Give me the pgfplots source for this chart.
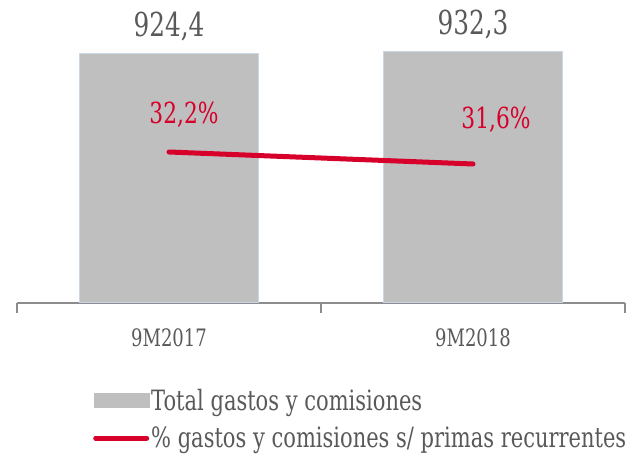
\documentclass[border=0pt]{standalone}
\usepackage{fontspec}
\setmainfont{DejaVu Serif}[FakeStretch=0.75]
\usepackage{pgfplots}
\pgfplotsset{compat=1.18}
\usetikzlibrary{calc}
\definecolor{barg}{HTML}{BFBFBF}
\definecolor{baredge}{HTML}{C8D6E8}
\definecolor{myred}{HTML}{D6002A}
\definecolor{txt}{HTML}{595959}
\definecolor{axg}{HTML}{8C8C8C}
\begin{document}
\begin{tikzpicture}
\begin{axis}[name=ax, scale only axis, width=608pt, height=269.4pt,
  xmin=-0.5, xmax=1.5, ymin=0, ymax=1000,
  axis y line=none, axis x line*=bottom,
  axis line style={axg, line width=1.2pt},
  xtick={0,1}, xticklabels={9M2017,9M2018},
  major tick length=0pt,
  minor xtick={-0.5,0.5,1.5}, minor tick length=10pt,
  tick align=outside, tick style={axg, line width=1.2pt},
  xticklabel style={font=\fontsize{24}{28}\selectfont, text=txt, yshift=-22pt},
  /pgf/number format/assume math mode=true,
  clip=false]
\addplot[ybar, bar width=0.592, fill=barg, draw=baredge, line width=1pt,
  point meta=y, nodes near coords={\pgfmathprintnumber[fixed,fixed zerofill,precision=1,use comma]{\pgfplotspointmeta}},
  nodes near coords style={font=\fontsize{33}{37}\selectfont, text=txt, anchor=south, yshift=9pt}]
  coordinates {(0,924.4) (1,932.3)};
\end{axis}
\begin{axis}[scale only axis, width=608pt, height=269.4pt,
  xmin=-0.5, xmax=1.5, ymin=24.65, ymax=38.12, hide axis, clip=false,
  legend cell align=left,
  legend style={at={(0.125,-0.312)}, anchor=north west, draw=none, fill=none,
    font=\fontsize{28}{31}\selectfont, text=txt, inner sep=0pt, row sep=11pt,
    nodes={inner sep=2pt}}]
\addlegendimage{legend image code/.code={\fill[barg] (0pt,-7pt) rectangle (55pt,7pt);}}
\addlegendentry{Total gastos y comisiones}
\addplot[myred, line width=5pt, line cap=round,
  legend image code/.code={\draw[myred,line width=5pt,line cap=round] (2pt,0pt) -- (53pt,0pt);}]
  coordinates {(0,32.2) (1,31.6)};
\addlegendentry{\% gastos y comisiones s/ primas recurrentes}
\node[text=myred, font=\fontsize{29}{33}\selectfont, xshift=15pt, yshift=37pt] at (axis cs:0,32.2) {32,2\%};
\node[text=myred, font=\fontsize{29}{33}\selectfont, xshift=23pt, yshift=44pt] at (axis cs:1,31.6) {31,6\%};
\end{axis}
\pgfresetboundingbox
\path ($(ax.south west)+(-17pt,-154pt)$) rectangle ($(ax.north east)+(6pt,33.6pt)$);
\end{tikzpicture}
\end{document}
